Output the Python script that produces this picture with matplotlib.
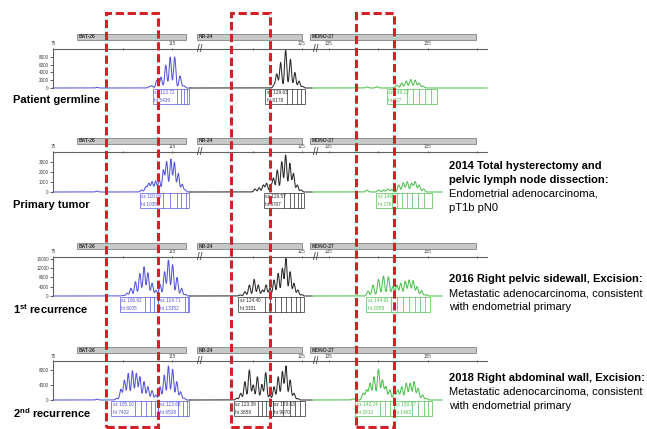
import numpy as np
import matplotlib.pyplot as plt
from matplotlib.patches import Rectangle
from matplotlib.transforms import blended_transform_factory, ScaledTranslation

plt.rcParams['font.family'] = ['Liberation Sans', 'DejaVu Sans']
plt.rcParams['mathtext.fontset'] = 'custom'
plt.rcParams['mathtext.rm'] = 'Liberation Sans'
plt.rcParams['mathtext.bf'] = 'Liberation Sans:bold'

# sample rows and MSI markers
samples = ['Patient germline', 'Primary tumor',
           '1$^{\\mathbf{st}}$ recurrence', '2$^{\\mathbf{nd}}$ recurrence']
markers = ['BAT-26', 'NR-24', 'MONO-27']
marker_bins = [(83.1, 119.7), (89.7, 125.0), (131.2, 164.7)]
marker_ticks = [[75, 98.5, 115], [108.5, 125], [135, 145, 155, 165]]
marker_ticklabels = [['75', '', '115'], ['', '125'], ['135', '', '155', '']]
rfu_max = [10060, 4000, 16800, 10400]
rfu_ticks = [[0, 2000, 4000, 6000, 8000], [0, 1000, 2000, 3000],
             [0, 4000, 8000, 12000, 16000], [0, 4000, 8000]]

# peak sizes (bp) and heights (RFU)
germ_bat_sz = [89.8, 107.3, 108.2, 109.9, 111.3, 112.9, 114.4, 115.9, 117.7, 119.0]
germ_bat_ht = [150, 300, 600, 2000, 2800, 5900, 8000, 8000, 3100, 600]
germ_nr_sz = [115.6, 116.5, 117.8, 119.5, 121.1, 122.6, 124.0, 125.2]
germ_nr_ht = [700, 3600, 6600, 9800, 7400, 4000, 1800, 400]
germ_mono_sz = [142.7, 144.7, 148.7, 149.7, 150.6, 151.5, 152.4, 153.2, 154.0]
germ_mono_ht = [300, 300, 770, 1300, 1800, 2200, 2000, 1300, 500]

prim_bat_sz = [89.8, 104.8, 106.2, 107.2, 108.3, 109.5, 110.7, 112.1, 113.2, 114.6,
               115.8, 117.1, 118.4, 119.4]
prim_bat_ht = [100, 200, 530, 870, 1030, 1100, 1270, 2200, 3030, 3300,
               2970, 1870, 770, 200]
prim_nr_sz = [109.2, 110.6, 112.0, 113.1, 114.5, 115.4, 116.7, 118.2, 119.5, 120.9,
              122.1, 123.4, 124.7]
prim_nr_ht = [300, 430, 700, 870, 600, 1370, 2200, 3030, 3700, 2870, 1870, 700, 200]
prim_mono_sz = [142.7, 145.0, 146.0, 146.9, 147.7, 149.1, 150.0, 150.8, 151.7, 152.4,
                153.2, 154.1]
prim_mono_ht = [200, 200, 200, 300, 250, 700, 930, 1030, 870, 1030, 700, 300]

rec1_bat_sz = [98.7, 99.9, 101.2, 102.7, 104.2, 105.6, 106.9, 108.3, 109.6, 111.0,
               112.5, 113.8, 115.2, 116.7, 118.2, 119.5]
rec1_bat_ht = [300, 1200, 3300, 6200, 9700, 12600, 10000, 5500, 2400, 4900,
               10500, 15500, 13500, 8000, 3300, 700]
rec1_nr_sz = [104.2, 105.8, 107.3, 108.9, 110.3, 111.7, 112.9, 114.2, 115.6, 117.0,
              118.4, 119.6, 121.0, 122.3, 123.6, 124.9]
rec1_nr_ht = [500, 1870, 4730, 7170, 4730, 2600, 4730, 3300, 6900, 9750,
              11900, 16200, 10450, 5460, 2600, 600]
rec1_mono_sz = [142.9, 143.9, 145.0, 146.0, 147.0, 147.9, 148.7, 149.5, 150.4, 151.2,
                152.0, 152.8, 153.7, 154.6]
rec1_mono_ht = [2100, 4700, 7200, 8600, 8300, 4000, 4700, 5500, 6400, 6900,
                6600, 4000, 2300, 600]

rec2_bat_sz = [89.8, 96.4, 97.8, 99.0, 100.3, 101.7, 103.0, 104.2, 105.6, 106.9,
               108.3, 109.6, 111.0, 112.4, 113.8, 115.2, 116.6, 117.9, 119.1]
rec2_bat_ht = [200, 450, 2850, 5300, 7100, 7800, 7100, 6200, 4900, 3550,
               2500, 1330, 3550, 6670, 9070, 8200, 4900, 2200, 500]
rec2_nr_sz = [103.1, 104.4, 105.8, 107.3, 108.6, 110.0, 111.5, 112.8, 114.2, 115.6,
              117.0, 118.4, 119.6, 121.0, 122.3, 123.6]
rec2_nr_ht = [500, 1780, 4900, 8000, 4000, 6200, 4180, 7300, 1330, 3550,
              6200, 7560, 9070, 5330, 1780, 400]
rec2_mono_sz = [139.9, 141.9, 142.6, 143.3, 144.1, 145.0, 145.8, 146.5, 147.3, 148.2,
                148.9, 149.7, 150.6, 151.4, 152.2, 153.0, 153.9, 154.7]
rec2_mono_ht = [300, 1780, 2670, 4450, 6200, 8200, 5330, 3550, 2670, 1780,
                2670, 3550, 4450, 4450, 4900, 3100, 1330, 400]

sizes = [[germ_bat_sz, germ_nr_sz, germ_mono_sz],
         [prim_bat_sz, prim_nr_sz, prim_mono_sz],
         [rec1_bat_sz, rec1_nr_sz, rec1_mono_sz],
         [rec2_bat_sz, rec2_nr_sz, rec2_mono_sz]]
heights = [[germ_bat_ht, germ_nr_ht, germ_mono_ht],
           [prim_bat_ht, prim_nr_ht, prim_mono_ht],
           [rec1_bat_ht, rec1_nr_ht, rec1_mono_ht],
           [rec2_bat_ht, rec2_nr_ht, rec2_mono_ht]]

# peak call labels: marker, from, to (bp), size text, height text, cell edges (bp)
germ_calls = [(0, 108.6, 120.8, 'sz 113.72', 'ht 5439', [116.7, 118.0, 119.0, 120.0]),
              (1, 112.6, 126.0, 'sz 129.63', 'ht 8178', [120.0, 121.6, 123.3, 124.7]),
              (2, 146.7, 156.8, 'sz 149.12', 'ht 927', [150.8, 152.0, 153.2, 154.4, 155.6])]
prim_calls = [(0, 104.2, 120.8, 'sz 110.89', 'ht 1035', [112.0, 114.3, 116.7, 118.0, 119.7]),
              (1, 112.2, 125.7, 'sz 129.57', 'ht 3707', [119.0, 121.0, 122.3, 123.7, 124.7]),
              (2, 144.5, 155.8, 'sz 146', 'ht 276',
               [147.7, 148.7, 149.7, 150.8, 151.8, 153.0, 154.2])]
rec1_calls = [(0, 97.5, 110.3, 'sz 106.92', 'ht 6005', [105.9, 107.6, 108.9]),
              (0, 110.3, 120.8, 'sz 114.71', 'ht 13352', [119.4, 120.4]),
              (1, 103.5, 125.7, 'sz 124.40', 'ht 3331',
               [112.6, 114.2, 115.9, 117.9, 119.6, 121.3, 123.0, 124.3]),
              (2, 142.5, 155.4, 'sz 144.91', 'ht 2859',
               [147.5, 148.7, 149.9, 151.2, 152.4, 153.4, 154.4])]
rec2_calls = [(0, 94.5, 110.3, 'sz 105.10', 'ht 7422', [102.6, 104.6, 106.3, 107.9, 109.3]),
              (0, 110.3, 120.8, 'sz 113.68', 'ht 6538', [117.0, 118.7, 120.0]),
              (1, 102.1, 115.2, 'sz 123.39', 'ht 3659', [110.2, 111.6, 112.9, 114.2]),
              (1, 115.2, 126.0, 'sz 129.63', 'ht 9070', [118.6, 121.0, 122.6, 124.3]),
              (2, 140.3, 148.1, 'sz 142.74', 'ht 2812', [145.3, 146.3, 147.3]),
              (2, 148.1, 155.8, 'sz 150.17', 'ht 1463', [151.8, 153.0, 154.2, 155.0])]
calls = [germ_calls, prim_calls, rec1_calls, rec2_calls]

# highlighted windows (bp) on each marker
window_bp = [(92.8, 110.3), (101.1, 114.2), (140.5, 148.1)]

notes = [None,
         ['2014 Total hysterectomy and', 'pelvic lymph node dissection:',
          'Endometrial adenocarcinoma,', 'pT1b pN0'],
         ['2016 Right pelvic sidewall, Excision:',
          'Metastatic adenocarcinoma, consistent', 'with endometrial primary'],
         ['2018 Right abdominal wall, Excision:',
          'Metastatic adenocarcinoma, consistent', 'with endometrial primary']]
note_bold = [None, 2, 1, 1]

# ---- layout (pixels) ----
W, H = 647, 429
seg_px = [(53, 190), (190, 312), (312, 487)]
seg_bp = [(75.0, 121.05), (87.35, 128.36), (131.57, 166.92)]
trace_end = [[121.05, 128.36, 166.92], [121.05, 128.36, 157.8],
             [121.05, 128.36, 157.8], [121.05, 128.36, 157.8]]
base_y = [88, 192, 296, 400]
top_y = [49, 152, 257, 361]
bar_y = [34, 138, 243, 347]
label_y = [100, 205, 309, 413]
note_y = [None, 166, 279, 378]
colors = ['#5555e0', '#2a2a2a', '#4cc04c']
sigma = [0.37, 0.37, 0.24]
axis_gray = '#606060'


def fx(x):
    return x / W


def fy(y):
    return 1 - y / H


fig = plt.figure(figsize=(W / 100, H / 100), dpi=100)
nudge = ScaledTranslation(1.5 / 100, 0, fig.dpi_scale_trans)

first_axes = []
for p in range(4):
    b, t = base_y[p], top_y[p]
    for m in range(3):
        l, r = seg_px[m]
        ax = fig.add_axes([fx(l), fy(b), fx(r - l), (b - t) / H])
        ax.set_xlim(seg_bp[m])
        ax.set_ylim(0, rfu_max[p])
        ax.patch.set_visible(False)
        for s in ['right', 'bottom']:
            ax.spines[s].set_visible(False)
        ax.spines['top'].set_color(axis_gray)
        ax.spines['top'].set_linewidth(0.8)
        ax.xaxis.tick_top()
        ax.set_xticks(marker_ticks[m])
        ax.set_xticklabels(marker_ticklabels[m])
        ax.tick_params(axis='x', length=2, width=0.6, pad=0.8, direction='inout',
                       labelsize=3.3, colors='#444444')
        if m == 0:
            ax.spines['left'].set_color(axis_gray)
            ax.spines['left'].set_linewidth(0.8)
            ax.set_yticks(rfu_ticks[p])
            ax.tick_params(axis='y', length=2, width=0.6, pad=1, labelsize=3.3,
                           colors='#444444')
        else:
            ax.spines['left'].set_visible(False)
            ax.set_yticks([])
        if p == 0:
            first_axes.append(ax)

        # electropherogram trace
        x = np.linspace(seg_bp[m][0], trace_end[p][m], 2500)
        y = np.zeros_like(x)
        for s, h in zip(sizes[p][m], heights[p][m]):
            y += h * np.exp(-0.5 * ((x - s) / sigma[m]) ** 2)
        ax.plot(x, y, color=colors[m], lw=0.75, clip_on=False, solid_joinstyle='miter')

        # marker bin bar
        tr = blended_transform_factory(ax.transData, fig.transFigure)
        b0, b1 = marker_bins[m]
        fig.add_artist(Rectangle((b0, fy(bar_y[p] + 6)), b1 - b0, 6 / H, transform=tr,
                                 fc='#c8c8c8', ec='#707070', lw=0.5))
        fig.text(b0, fy(bar_y[p] + 3), markers[m], transform=tr + nudge, fontsize=3.6,
                 fontweight='bold', color='#333333', va='center', zorder=3)

        # peak call label boxes
        for mk, x0, x1, sz, ht, cells in calls[p]:
            if mk != m:
                continue
            fig.add_artist(Rectangle((x0, fy(b + 16)), x1 - x0, 15 / H, transform=tr,
                                     fill=False, ec=colors[m], lw=0.5))
            for c in cells:
                fig.add_artist(plt.Line2D([c, c], [fy(b + 16), fy(b + 1)], transform=tr,
                                          color=colors[m], lw=0.5))
            fig.text(x0, fy(b + 5), sz, transform=tr + nudge, fontsize=3.4,
                     color=colors[m], va='center', zorder=3)
            fig.text(x0, fy(b + 12), ht, transform=tr + nudge, fontsize=3.4,
                     color=colors[m], va='center', zorder=3)

    # axis breaks
    for xb in (200, 316):
        fig.text(fx(xb), fy(t), '//', fontsize=7, color='#333333',
                 ha='center', va='center')

    fig.text(fx(13), fy(label_y[p]), samples[p], fontsize=8, fontweight='bold',
             ha='left', va='center')

    if notes[p]:
        for i, line in enumerate(notes[p]):
            fig.text(fx(449), fy(note_y[p] + 14 * i), line, fontsize=8,
                     fontweight='bold' if i < note_bold[p] else 'normal',
                     ha='left', va='center')

# red dashed windows over all four rows
for m in range(3):
    tr = blended_transform_factory(first_axes[m].transData, fig.transFigure)
    w0, w1 = window_bp[m]
    fig.add_artist(Rectangle((w0, fy(427)), w1 - w0, (427 - 13) / H, transform=tr,
                             fill=False, ec='#d42027', lw=2.2,
                             ls=(0, (2.7, 1.2)), zorder=5))

fig.savefig('out.png', dpi=100)
